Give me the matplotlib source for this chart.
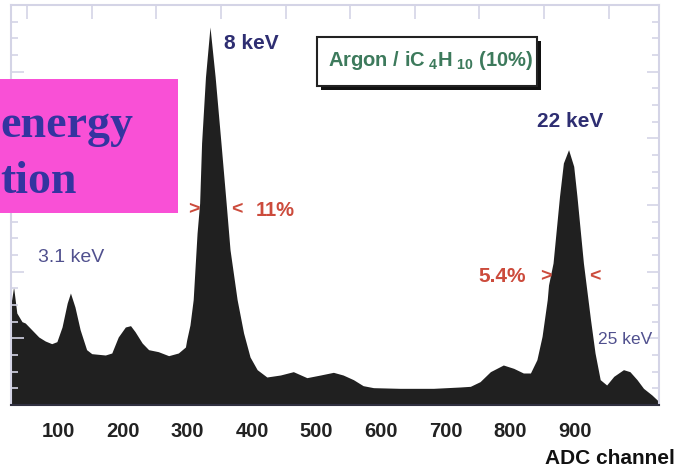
import matplotlib.pyplot as plt
from matplotlib.patches import Rectangle
from matplotlib.ticker import MultipleLocator

# spectrum (ADC channel, counts in arbitrary units)
channel = [27, 28, 31, 36, 44, 49, 59, 70, 80, 90, 98, 106, 114, 119, 126, 134,
           144, 152, 173, 183, 193, 204, 212, 219, 230, 240, 255, 271, 286, 297,
           299, 304, 309, 315, 319, 322, 328, 335, 343, 352, 360, 366, 377, 387,
           397, 408, 423, 444, 464, 485, 506, 526, 541, 557, 572, 588, 629, 681,
           722, 738, 753, 769, 789, 805, 820, 831, 841, 849, 857, 859, 866, 871,
           876, 882, 890, 898, 903, 908, 913, 924, 931, 939, 949, 960, 975, 985,
           996, 1006, 1019, 1030]
counts = [1.55, 1.58, 1.77, 1.38, 1.25, 1.23, 1.13, 1.02, 0.96, 0.92, 0.95, 1.17, 1.53, 1.68, 1.47, 1.13,
          0.83, 0.77, 0.75, 0.78, 1.02, 1.17, 1.19, 1.10, 0.93, 0.83, 0.80, 0.74, 0.78, 0.87,
          0.98, 1.20, 1.58, 2.58, 3.03, 3.93, 4.92, 5.67, 4.92, 3.93, 3.03, 2.33, 1.58, 1.08,
          0.72, 0.53, 0.42, 0.45, 0.50, 0.41, 0.45, 0.49, 0.45, 0.38, 0.29, 0.26, 0.25, 0.25,
          0.27, 0.28, 0.35, 0.50, 0.60, 0.55, 0.48, 0.48, 0.68, 1.03, 1.58, 1.80, 2.13, 2.63,
          3.13, 3.63, 3.83, 3.58, 3.13, 2.63, 2.13, 1.28, 0.78, 0.38, 0.30, 0.43, 0.53, 0.50,
          0.38, 0.25, 0.15, 0.05]

tick_labels = [100, 200, 300, 400, 500, 600, 700, 800, 900]

plt.rcParams['font.family'] = ['Liberation Sans', 'DejaVu Sans']
plt.rcParams['mathtext.default'] = 'regular'

fig = plt.figure(figsize=(6.77, 4.76), dpi=100)
ax = fig.add_axes([11 / 677, 1 - 405 / 476, 648 / 677, 400 / 476])

ax.fill_between(channel, counts, 0, color='#202020', lw=0)
ax.set_xlim(27, 1030)
ax.set_ylim(0, 6)

spine_c = '#d4d4e6'
for s in ax.spines.values():
    s.set_color(spine_c)
    s.set_linewidth(1.5)
ax.spines['bottom'].set_color('#303040')

ax.set_xticks(tick_labels)
ax.set_xticklabels([str(t) for t in tick_labels], fontsize=14.5, fontweight='bold', color='#222222')
ax.tick_params(axis='x', which='major', length=0, pad=12)
ax.set_yticks([])
ax.yaxis.set_major_locator(MultipleLocator(1))
ax.yaxis.set_minor_locator(MultipleLocator(0.25))
ax.tick_params(axis='y', which='both', direction='in', left=True, right=True,
               labelleft=False, color=spine_c, width=1.2)
ax.tick_params(axis='y', which='major', length=9)
ax.tick_params(axis='y', which='minor', length=5)

# top ticks sit between the labels
top = ax.secondary_xaxis('top')
top.set_xticks([52 + 100 * i for i in range(10)])
top.tick_params(direction='in', length=10, color=spine_c, width=1.2, labeltop=False)
top.spines['top'].set_visible(False)

blue = '#2e2e72'
light_blue = '#50508e'
red = '#cc4b3c'
ax.text(357, 5.43, '8 keV', color=blue, fontsize=15, fontweight='bold', va='center')
ax.text(841, 4.25, '22 keV', color=blue, fontsize=15, fontweight='bold', va='center')
ax.text(69, 2.22, '3.1 keV', color=light_blue, fontsize=14, va='center')
ax.text(936, 0.98, '25 keV', color=light_blue, fontsize=12.5, va='center')
ax.text(310, 2.93, '>', color=red, fontsize=14, fontweight='bold', ha='center', va='center')
ax.text(377, 2.93, '<', color=red, fontsize=14, fontweight='bold', ha='center', va='center')
ax.text(406, 2.91, '11%', color=red, fontsize=14.5, fontweight='bold', va='center')
ax.text(855, 1.93, '>', color=red, fontsize=14, fontweight='bold', ha='center', va='center')
ax.text(930, 1.93, '<', color=red, fontsize=14, fontweight='bold', ha='center', va='center')
ax.text(750, 1.92, '5.4%', color=red, fontsize=15, fontweight='bold', va='center')

fig.text(545 / 677, 1 - 458 / 476, 'ADC channel', fontsize=15, fontweight='bold',
         color='#111111', va='center')

# gas mixture box with drop shadow
fig.add_artist(Rectangle((321 / 677, 1 - 90 / 476), 220 / 677, 49 / 476,
                         transform=fig.transFigure, fc='#111111', ec='none', zorder=5))
fig.add_artist(Rectangle((317 / 677, 1 - 86 / 476), 220 / 677, 49 / 476,
                         transform=fig.transFigure, fc='white', ec='#222222', lw=1.5, zorder=6))
fig.text(431 / 677, 1 - 61 / 476, 'Argon / iC$_{\\ 4}$H$_{\\ 10}$ (10%)', fontsize=14.5,
         fontweight='bold', color='#3d7a5c', ha='center', va='center', zorder=7)

# pink overlay box
fig.add_artist(Rectangle((0, 1 - 213 / 476), 178 / 677, 134 / 476,
                         transform=fig.transFigure, fc='#f950d6', ec='none', zorder=8))
fig.text(0, 1 - 137 / 476, 'energy', family='Liberation Serif', fontsize=33,
         fontweight='bold', color='#3434a0', va='baseline', zorder=9)
fig.text(0, 1 - 193 / 476, 'tion', family='Liberation Serif', fontsize=33,
         fontweight='bold', color='#3434a0', va='baseline', zorder=9)

plt.savefig('out.png', dpi=100)
